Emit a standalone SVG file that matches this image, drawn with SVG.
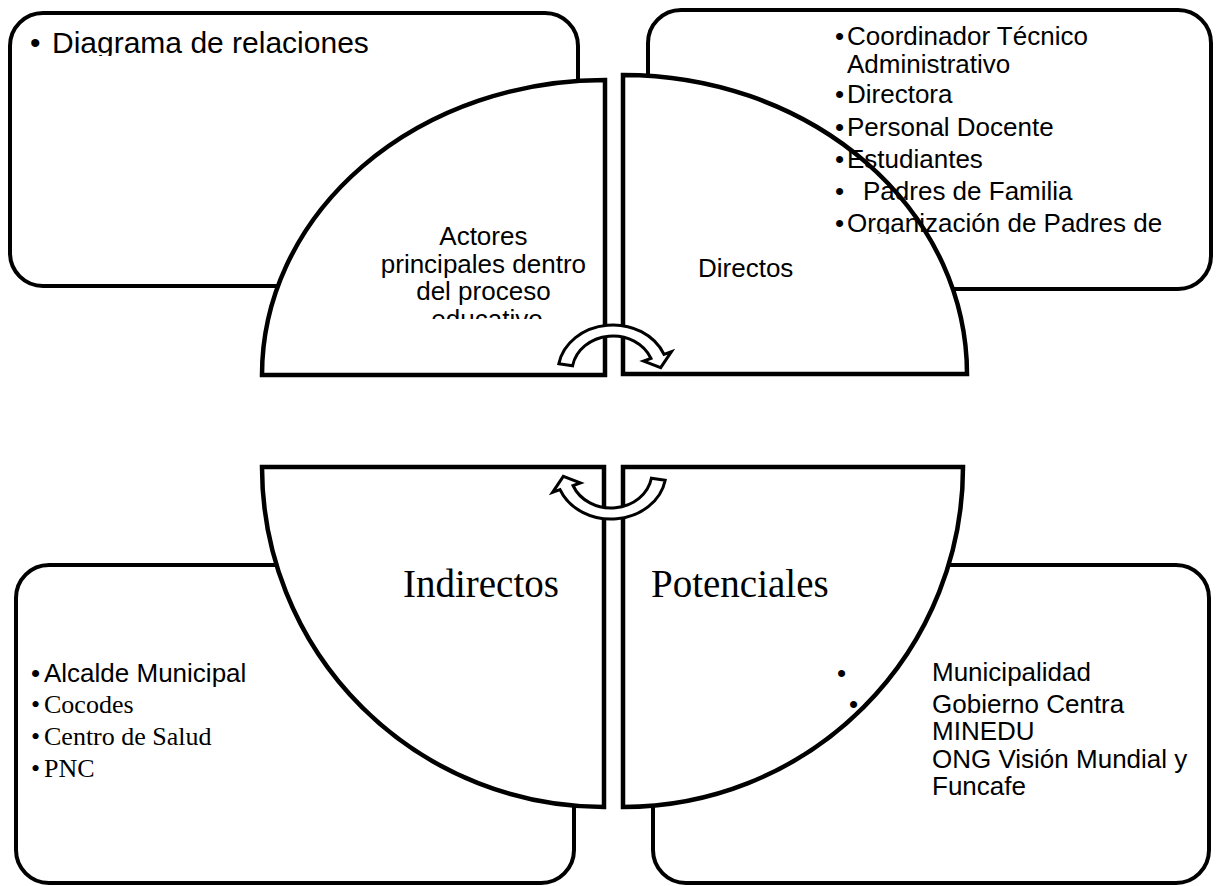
<svg xmlns="http://www.w3.org/2000/svg" width="1217" height="886" viewBox="0 0 1217 886">
  <style>
    .box { fill: #ffffff; stroke: #000000; stroke-width: 4; }
    .quad { fill: #ffffff; stroke: #000000; stroke-width: 4.5; stroke-linejoin: miter; }
    .arrow { fill: #ffffff; stroke: #000000; stroke-width: 3; stroke-linejoin: miter; }
    .sans { font-family: "Liberation Sans", Arial, sans-serif; fill: #000000; }
    .serif { font-family: "Liberation Serif", "Times New Roman", serif; fill: #000000; }
    .t26 { font-size: 26px; }
    .t39 { font-size: 39px; }
  </style>
  <defs>
    <clipPath id="clip-diag"><rect x="0" y="0" width="600" height="56"/></clipPath>
    <clipPath id="clip-actores"><rect x="300" y="200" width="300" height="119"/></clipPath>
    <clipPath id="clip-directos"><rect x="820" y="0" width="397" height="234"/></clipPath>
  </defs>
  <rect x="0" y="0" width="1217" height="886" fill="#ffffff"/>

  <g id="box-top-left">
    <rect class="box" x="10" y="13" width="568" height="273" rx="33" ry="33"/>
    <g clip-path="url(#clip-diag)">
      <text class="sans" x="30" y="53" font-size="30">•</text>
      <text class="sans" x="52" y="53" font-size="30">Diagrama de relaciones</text>
    </g>
  </g>
  <g id="box-top-right">
    <rect class="box" x="648" y="10" width="563" height="279" rx="33" ry="33"/>
  </g>
  <g id="box-bottom-left">
    <rect class="box" x="16" y="565" width="558" height="318" rx="33" ry="33"/>
    <text class="sans t26" x="31" y="682">•</text>
    <text class="sans t26" x="44" y="682">Alcalde Municipal</text>
    <text class="serif t26" x="31" y="713">•</text>
    <text class="serif t26" x="44" y="713">Cocodes</text>
    <text class="serif t26" x="31" y="745">•</text>
    <text class="serif t26" x="44" y="745">Centro de Salud</text>
    <text class="serif t26" x="31" y="777">•</text>
    <text class="serif t26" x="44" y="777">PNC</text>
  </g>
  <g id="box-bottom-right">
    <rect class="box" x="653" y="565" width="556" height="318" rx="33" ry="33"/>
  </g>

  <g id="quad-top-left">
    <path class="quad" d="M605,80 L605,375 L262,375 A343,295 0 0 1 605,80 Z"/>
    <g clip-path="url(#clip-actores)">
      <text class="sans t26" text-anchor="middle">
        <tspan x="487" y="245">Actores</tspan>
        <tspan x="487" y="273">principales dentro</tspan>
        <tspan x="487" y="300">del proceso</tspan>
        <tspan x="487" y="328">educativo</tspan>
      </text>
    </g>
  </g>
  <g id="quad-top-right">
    <path class="quad" d="M623,75 L623,374 L967,374 A344,299 0 0 0 623,75 Z"/>
    <text class="sans t26" x="698" y="277">Directos</text>
  </g>
  <g id="quad-bottom-left">
    <path class="quad" d="M262,467 L604,467 L604,807 A342,340 0 0 1 262,467 Z"/>
    <text class="serif t39" x="403" y="597">Indirectos</text>
  </g>
  <g id="quad-bottom-right">
    <path class="quad" d="M623,467 L963,467 A340,340 0 0 1 623,807 Z"/>
    <text class="serif t39" x="651" y="597">Potenciales</text>
  </g>

  <g id="box-top-right-list">
    <g clip-path="url(#clip-directos)">
      <text class="sans t26" x="835" y="45">•</text>
      <text class="sans t26" x="847" y="45">Coordinador Técnico</text>
      <text class="sans t26" x="847" y="73">Administrativo</text>
      <text class="sans t26" x="835" y="103">•</text>
      <text class="sans t26" x="847" y="103">Directora</text>
      <text class="sans t26" x="835" y="136">•</text>
      <text class="sans t26" x="847" y="136">Personal Docente</text>
      <text class="sans t26" x="835" y="168">•</text>
      <text class="sans t26" x="847" y="168">Estudiantes</text>
      <text class="sans t26" x="835" y="200">•</text>
      <text class="sans t26" x="863" y="200">Padres de Familia</text>
      <text class="sans t26" x="835" y="232">•</text>
      <text class="sans t26" x="847" y="232">Organización de Padres de</text>
    </g>
  </g>
  <g id="box-bottom-right-list">
    <text class="sans t26" x="837" y="682">•</text>
    <text class="sans t26" x="849" y="713">•</text>
    <text class="sans t26" x="932" y="681">Municipalidad</text>
    <text class="sans t26" x="932" y="713">Gobierno Centra</text>
    <text class="sans t26" x="932" y="740">MINEDU</text>
    <text class="sans t26" x="932" y="768">ONG Visión Mundial y</text>
    <text class="sans t26" x="932" y="795">Funcafe</text>
  </g>

  <g id="connectors">
    <path id="arrow-top" class="arrow" d="M558.8,363.8 A55,47 0 0 1 664.0,354.4 L671.4,351.7 L660.7,367.7 L643.6,361.1 L651.0,358.5 A41,36 0 0 0 572.6,365.7 Z"/>
    <path id="arrow-bottom" class="arrow" transform="rotate(180 612 422)" d="M558.8,363.8 A55,47 0 0 1 664.0,354.4 L671.4,351.7 L660.7,367.7 L643.6,361.1 L651.0,358.5 A41,36 0 0 0 572.6,365.7 Z"/>
  </g>
</svg>
